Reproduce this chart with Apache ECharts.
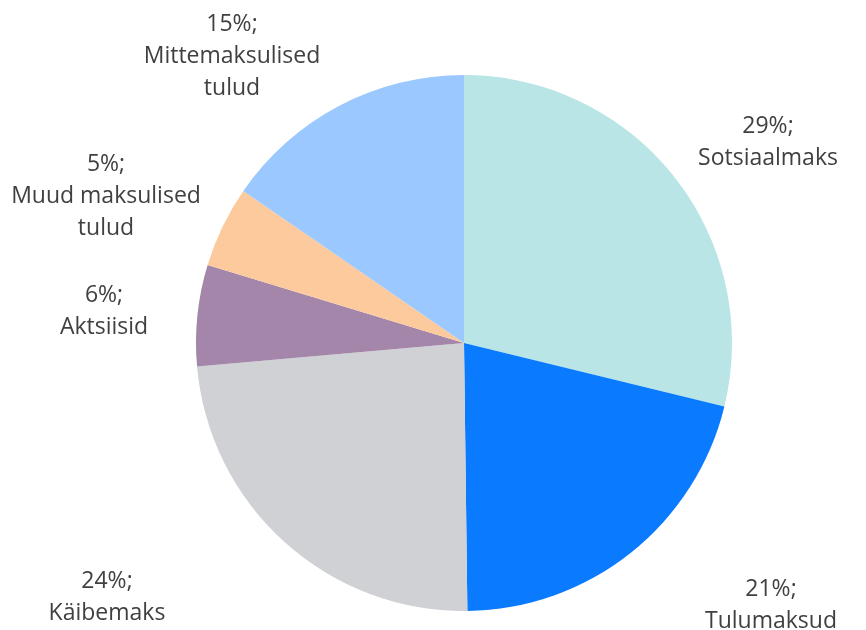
<!DOCTYPE html>
<html>
<head>
<meta charset="utf-8">
<script src="https://cdn.jsdelivr.net/npm/echarts@6/dist/echarts.min.js"></script>
<style>html,body{margin:0;padding:0;background:#fff}#c{width:866px;height:630px}</style>
</head>
<body>
<div id="c"></div>
<script>
var categories = ['Sotsiaalmaks', 'Tulumaksud', 'Käibemaks', 'Aktsiisid', 'Muud maksulised\ntulud', 'Mittemaksulised\ntulud'];
var values = [28.8, 21.0, 23.8, 6.1, 4.9, 15.4];
var colors = ['#b9e5e6', '#0a7bff', '#d0d1d4', '#a386a9', '#fdca9d', '#9bc8ff'];
// label anchor positions (layout only)
var labelPos = [[768, 142], [771, 605], [107, 597], [104, 311], [106, 196], [232, 56]];

var chart = echarts.init(document.getElementById('c'));
chart.setOption({
  animation: false,
  series: [{
    type: 'pie',
    center: [464, 343],
    radius: 268,
    startAngle: 90,
    clockwise: true,
    data: categories.map(function (n, i) { return { name: n, value: values[i], itemStyle: { color: colors[i] } }; }),
    label: {
      show: true,
      position: 'outside',
      formatter: function (p) { return Math.round(p.value) + '%;\n' + p.name; },
      fontFamily: 'Open Sans',
      fontSize: 23,
      lineHeight: 32,
      color: '#404040',
      align: 'center',
      overflow: 'none',
      width: 300
    },
    labelLine: { show: false },
    labelLayout: function (p) {
      var pos = labelPos[p.dataIndex];
      return { x: pos[0], y: pos[1], align: 'center', verticalAlign: 'middle' };
    }
  }]
});
</script>
</body>
</html>
